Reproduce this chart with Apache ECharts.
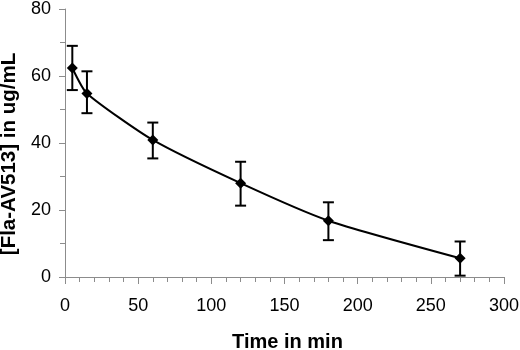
<!DOCTYPE html>
<html>
<head>
<meta charset="utf-8">
<script src="https://cdn.jsdelivr.net/npm/echarts@6/dist/echarts.min.js"></script>
<style>
  html, body { margin: 0; padding: 0; background: #fff; }
  #chart { width: 520px; height: 350px; }
</style>
</head>
<body>
<div id="chart"></div>
<script>
// time points (min) and concentration (ug/mL)
const times = [5, 15, 60, 120, 180, 270];
const conc = [62.4, 54.8, 40.9, 28.0, 16.8, 5.6];
const errHigh = [69.0, 61.4, 46.1, 34.4, 22.3, 10.6];
const errLow = [55.8, 48.9, 35.4, 21.3, 11.0, 0.4];

const myChart = echarts.init(document.getElementById('chart'));

const points = times.map((t, i) => [t, conc[i]]);
const bars = times.map((t, i) => [t, errLow[i], errHigh[i]]);

const axisGrey = '#8c8c8c';

const option = {
    animation: false,
    grid: { left: 65, right: 16, top: 9, bottom: 73, outerBoundsMode: 'none' },
    xAxis: {
        type: 'value',
        min: 0,
        max: 300,
        interval: 50,
        name: 'Time in min',
        nameLocation: 'middle',
        nameGap: 55,
        nameTextStyle: {
            fontFamily: 'Liberation Sans', fontWeight: 'bold', fontSize: 20, color: '#000',
            padding: [0, 0, 0, 6]
        },
        axisLine: { show: true, lineStyle: { color: axisGrey, width: 1 } },
        axisTick: { show: true, length: 7, lineStyle: { color: axisGrey } },
        minorTick: { show: true, splitNumber: 5, length: 5, lineStyle: { color: axisGrey } },
        splitLine: { show: false },
        axisLabel: { fontFamily: 'Liberation Sans', fontSize: 18, color: '#000', margin: 20 }
    },
    yAxis: {
        type: 'value',
        min: 0,
        max: 80,
        interval: 20,
        name: '[Fla-AV513] in ug/mL',
        nameLocation: 'middle',
        nameGap: 43,
        nameTextStyle: {
            fontFamily: 'Liberation Sans', fontWeight: 'bold', fontSize: 20.5, color: '#000',
            padding: [0, 22, 0, 0]
        },
        axisLine: { show: true, lineStyle: { color: axisGrey, width: 1 } },
        axisTick: { show: true, length: 6, lineStyle: { color: axisGrey } },
        minorTick: { show: true, splitNumber: 2, length: 5, lineStyle: { color: axisGrey } },
        splitLine: { show: false },
        axisLabel: { fontFamily: 'Liberation Sans', fontSize: 18, color: '#000', margin: 14 }
    },
    series: [
        {
            type: 'custom',
            data: bars,
            z: 3,
            renderItem: function (params, api) {
                const x = api.value(0);
                const lo = api.coord([x, api.value(1)]);
                const hi = api.coord([x, api.value(2)]);
                const w = 5.5;
                const style = { stroke: '#000', lineWidth: 2 };
                return {
                    type: 'group',
                    children: [
                        { type: 'line', shape: { x1: lo[0], y1: lo[1], x2: hi[0], y2: hi[1] }, style: style },
                        { type: 'line', shape: { x1: hi[0] - w, y1: hi[1], x2: hi[0] + w, y2: hi[1] }, style: style },
                        { type: 'line', shape: { x1: lo[0] - w, y1: lo[1], x2: lo[0] + w, y2: lo[1] }, style: style }
                    ]
                };
            }
        },
        {
            type: 'line',
            data: points,
            smooth: 0.2,
            z: 4,
            symbol: 'diamond',
            symbolSize: 11,
            itemStyle: { color: '#000' },
            lineStyle: { color: '#000', width: 2 }
        }
    ]
};

myChart.setOption(option);
</script>
</body>
</html>
